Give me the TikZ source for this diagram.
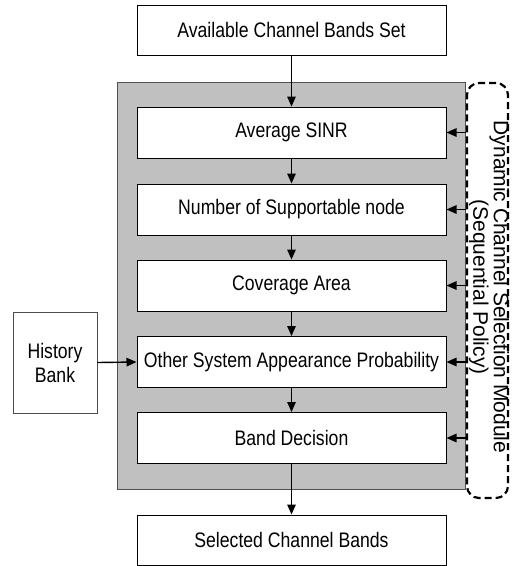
\documentclass[tikz,border=0pt]{standalone}
\usepackage{fontspec}
\setmainfont{Liberation Sans}
\usepackage{graphicx}
\usetikzlibrary{arrows.meta,positioning,calc}
\definecolor{panelgray}{HTML}{C0C0C0}
\definecolor{paneledge}{HTML}{505050}
\newcommand{\sqz}[1]{\scalebox{0.84}[1]{#1}}
\tikzset{
  stepbox/.style={draw=black,line width=1pt,fill=white,minimum width=309pt,minimum height=51pt,inner sep=0pt,font=\fontsize{21}{24}\selectfont},
  histbox/.style={draw=black!70,line width=1pt,fill=white,minimum width=84pt,minimum height=101pt,inner sep=0pt,align=center,font=\fontsize{21}{24}\selectfont},
  arr/.style={line width=1.4pt,-{Triangle[length=10pt,width=8.5pt]}},
}
\begin{document}
\begin{tikzpicture}[x=1pt,y=-1pt]
\useasboundingbox (0,0) rectangle (513,566);
% gray panel
\node[draw=paneledge,line width=1pt,fill=panelgray,minimum width=348pt,minimum height=407pt,inner sep=0pt] (panel) at (291,285.5) {};
% dashed module box
\node[draw=black,line width=2.2pt,dash pattern=on 7pt off 4pt,rounded corners=12pt,minimum width=41pt,minimum height=415pt,inner sep=0pt] (dash) at (487.5,290.5) {};
\node[rotate=-90,align=center,font=\fontsize{21}{19}\selectfont] (dlabel) at (489,287) {Dynamic Channel Selection Module\\(Sequential Policy)};
% boxes
\node[stepbox,minimum height=50pt] (top) at (291.5,30) {\sqz{Available Channel Bands Set}};
\node[stepbox] (b1) at (291.5,132.5) {\sqz{Average SINR}};
\node[stepbox] (b2) at (291.5,209.5) {\sqz{Number of Supportable node}};
\node[stepbox] (b3) at (291.5,285.5) {\sqz{Coverage Area}};
\node[stepbox] (b4) at (291.5,362) {\sqz{Other System Appearance Probability}};
\node[stepbox] (b5) at (291.5,438) {\sqz{Band Decision}};
\node[stepbox,minimum height=50pt] (bot) at (291.5,540) {\sqz{Selected Channel Bands}};
\node[histbox] (hist) at (55,362.5) {\sqz{History}\\\sqz{Bank}};
% vertical flow
\draw[arr] (top) -- (b1);
\draw[arr] (b1) -- (b2);
\draw[arr] (b2) -- (b3);
\draw[arr] (b3) -- (b4);
\draw[arr] (b4) -- (b5);
\draw[arr] (b5) -- (bot);
% history arrow
\draw[arr] (hist.east) -- (b4.west);
% module arrows
\foreach \b in {b1,b2,b3,b4,b5}{
  \draw[arr] (dash.west |- \b.east) -- (\b.east);
}
\end{tikzpicture}
\end{document}
